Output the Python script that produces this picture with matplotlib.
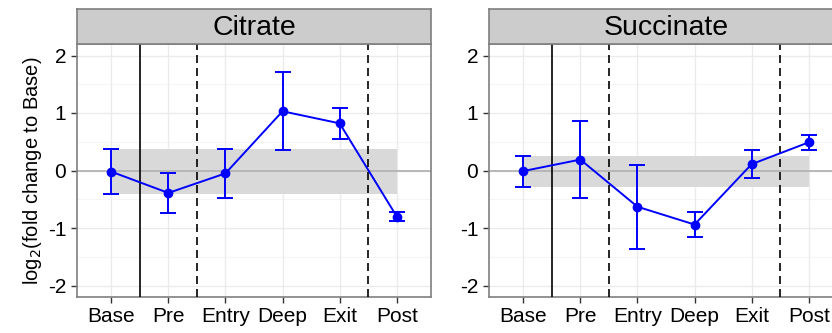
import matplotlib
matplotlib.use("Agg")
import matplotlib.pyplot as plt
import numpy as np

plt.rcParams['font.family'] = ['Liberation Sans', 'DejaVu Sans']

phases = ["Base", "Pre", "Entry", "Deep", "Exit", "Post"]

citrate_mean = [-0.02, -0.39, -0.05, 1.03, 0.82, -0.80]
citrate_err = [0.39, 0.35, 0.43, 0.68, 0.27, 0.075]

succinate_mean = [-0.01, 0.19, -0.63, -0.94, 0.11, 0.49]
succinate_err = [0.27, 0.67, 0.73, 0.215, 0.24, 0.13]

metabolites = ["Citrate", "Succinate"]
means = [citrate_mean, succinate_mean]
errs = [citrate_err, succinate_err]

solid_breaks = [1.5]
dashed_breaks = [2.5, 5.5]

W, H = 832, 333
fig = plt.figure(figsize=(W / 100, H / 100), dpi=100)

panel_left = [77, 489]
panel_w = 354
ax_top, ax_bot = 44, 297
strip_top = 9

blue = "#0000FF"
x = np.arange(1, len(phases) + 1)

for i, name in enumerate(metabolites):
    l = panel_left[i]
    ax = fig.add_axes([l / W, 1 - ax_bot / H, panel_w / W, (ax_bot - ax_top) / H])
    ax.set_xlim(0.4, 6.6)
    ax.set_ylim(-2.2, 2.2)
    ax.set_facecolor("white")

    # grid
    for yv in np.arange(-2, 2.01, 1):
        ax.axhline(yv, color="#EBEBEB", lw=1.0, zorder=0)
    for yv in np.arange(-1.5, 2.0, 1):
        ax.axhline(yv, color="#F5F5F5", lw=0.8, zorder=0)
    for xv in x:
        ax.axvline(xv, color="#EBEBEB", lw=1.0, zorder=0)

    m = np.array(means[i])
    e = np.array(errs[i])

    # baseline variability band
    ax.fill_between([1, 6], m[0] - e[0], m[0] + e[0], color="#D9D9D9", lw=0, zorder=1)
    ax.axhline(0, color="#B3B3B3", lw=1.3, zorder=2)

    for xv in solid_breaks:
        ax.axvline(xv, color="black", lw=1.2, zorder=3)
    for xv in dashed_breaks:
        ax.axvline(xv, color="black", lw=1.2, ls=(0, (4.8, 3)), zorder=3)

    ax.errorbar(x, m, yerr=e, color=blue, lw=1.4, elinewidth=1.4, capsize=6,
                capthick=1.4, marker="o", ms=6, zorder=4)

    ax.set_xticks(x)
    ax.set_xticklabels(phases, fontsize=15)
    ax.set_yticks([-2, -1, 0, 1, 2])
    ax.set_yticklabels(["-2", "-1", "0", "1", "2"], fontsize=15)
    ax.tick_params(length=4.3, width=1.0, color="#333333")
    ax.tick_params(axis="x", pad=3)
    ax.tick_params(axis="y", pad=3.5)
    for s in ax.spines.values():
        s.set_color("#7F7F7F")
        s.set_linewidth(1.2)

    # facet strip
    sax = fig.add_axes([l / W, 1 - ax_top / H, panel_w / W, (ax_top - strip_top) / H])
    sax.set_facecolor("#CCCCCC")
    sax.set_xticks([])
    sax.set_yticks([])
    for s in sax.spines.values():
        s.set_color("#7F7F7F")
        s.set_linewidth(1.2)
    sax.text(0.5, 0.45, name, ha="center", va="center", fontsize=20.5,
             transform=sax.transAxes)

    if i == 0:
        ax.set_ylabel("log$_2$(fold change to Base)", fontsize=14.5, labelpad=3)

fig.savefig("out.png", dpi=100)
